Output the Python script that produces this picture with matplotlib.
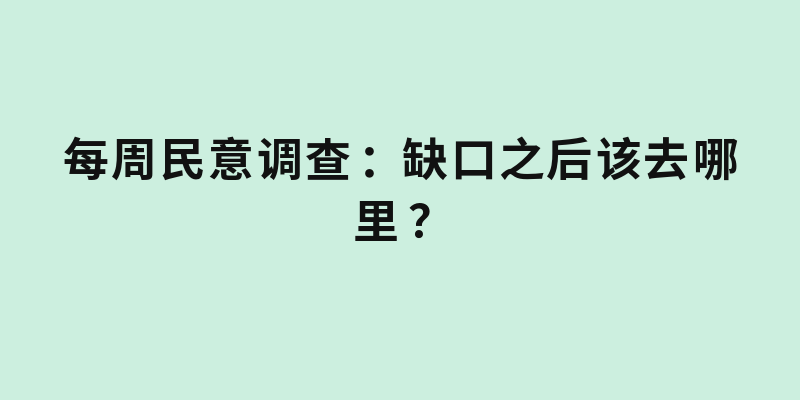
import matplotlib
matplotlib.use("Agg")
import matplotlib.pyplot as plt

# Text content (title card)
title_lines = ["每周民意调查：缺口之后该去哪", "里？"]
line_centers_y = [163, 225]   # pixel rows of each line's centre
char_advance = 48.4           # pixel advance per character
bg_color = "#CCEFDF"
text_color = "#111111"
punct_shift = {"？": 6, "：": 5}

W, H = 800, 400
fig = plt.figure(figsize=(W / 100, H / 100), dpi=100, facecolor=bg_color)
ax = fig.add_axes([0, 0, 1, 1])
ax.set_xlim(0, W)
ax.set_ylim(H, 0)
ax.axis("off")
ax.set_facecolor(bg_color)

for line, yc in zip(title_lines, line_centers_y):
    n = len(line)
    for i, ch in enumerate(line):
        xc = W / 2 + (i - (n - 1) / 2) * char_advance + punct_shift.get(ch, 0)
        ax.text(xc, yc, ch, ha="center", va="center", fontsize=33,
                fontweight="bold", color=text_color,
                family=["Noto Sans CJK SC", "DejaVu Sans"])

fig.savefig("out.png", dpi=100, facecolor=bg_color)
